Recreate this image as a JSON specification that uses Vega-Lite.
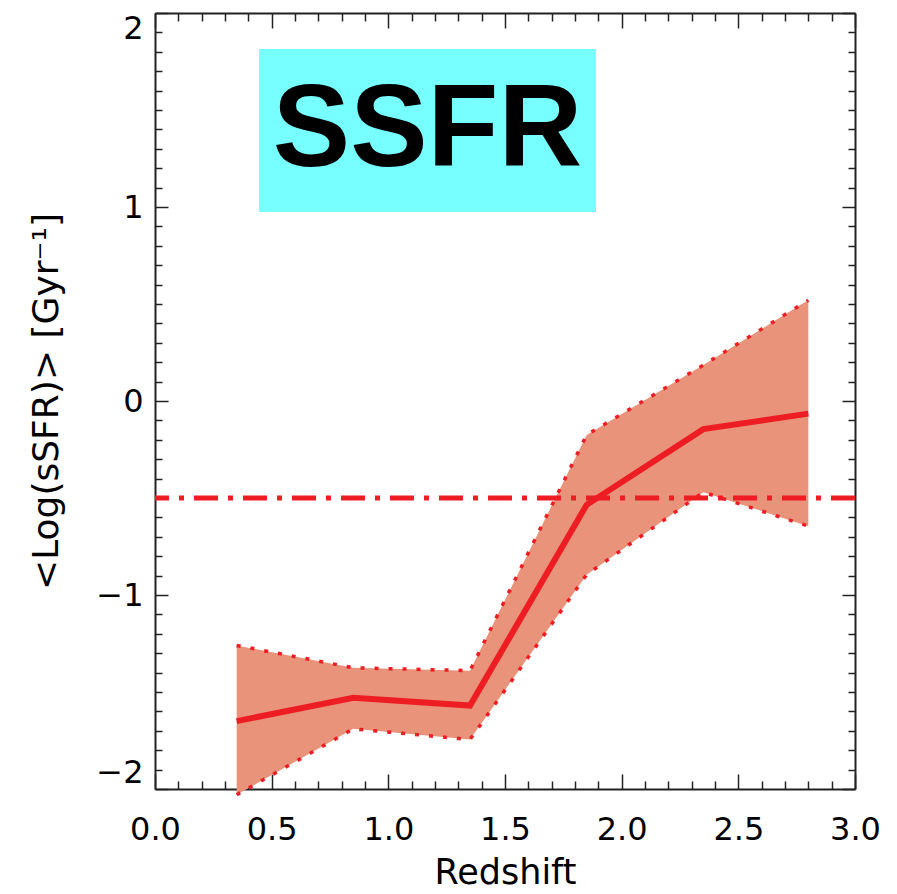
{
  "$schema": "https://vega.github.io/schema/vega-lite/v6.json",
  "autosize": "none",
  "width": 700,
  "height": 776,
  "padding": {"left": 155, "top": 13, "right": 42, "bottom": 105},
  "background": "white",
  "config": {
    "view": {"stroke": null},
    "axis": {
      "grid": false,
      "domainColor": "#222222",
      "domainWidth": 2,
      "tickColor": "#222222",
      "tickWidth": 1.5,
      "labelFont": "DejaVu Sans",
      "labelFontSize": 32,
      "labelColor": "#000000",
      "labelOverlap": false,
      "labelFlush": false,
      "titleFont": "DejaVu Sans",
      "titleFontSize": 35,
      "titleFontWeight": "normal",
      "titleColor": "#000000"
    }
  },
  "datasets": {
    "series": [
      {"z": 0.35, "mean": -1.65, "hi": -1.26, "lo": -2.03},
      {"z": 0.85, "mean": -1.53, "hi": -1.375, "lo": -1.69},
      {"z": 1.35, "mean": -1.57, "hi": -1.39, "lo": -1.745},
      {"z": 1.85, "mean": -0.535, "hi": -0.175, "lo": -0.895},
      {"z": 2.35, "mean": -0.145, "hi": 0.185, "lo": -0.47},
      {"z": 2.8, "mean": -0.065, "hi": 0.52, "lo": -0.645}
    ],
    "box": [
      {"x1": 0.446, "x2": 1.89, "y1": 1.814, "y2": 0.974, "cx": 1.168, "cy": 1.394, "label": "SSFR"}
    ],
    "ref": [{"y": -0.5}]
  },
  "layer": [
    {
      "data": {"name": "series"},
      "mark": {"type": "area", "color": "#E8937A", "opacity": 1},
      "encoding": {
        "x": {
          "field": "z", "type": "quantitative",
          "scale": {"domain": [0, 3], "nice": false, "zero": false},
          "axis": {
            "orient": "bottom",
            "title": "Redshift",
            "titlePadding": 3,
            "values": [0,0.1,0.2,0.3,0.4,0.5,0.6,0.7,0.8,0.9,1,1.1,1.2,1.3,1.4,1.5,1.6,1.7,1.8,1.9,2,2.1,2.2,2.3,2.4,2.5,2.6,2.7,2.8,2.9,3],
            "labelExpr": "abs(datum.value*2 - round(datum.value*2)) < 0.001 ? format(datum.value, '.1f') : ''",
            "tickSize": {"condition": {"test": "abs(datum.value*2 - round(datum.value*2)) < 0.001", "value": -15}, "value": -8},
            "labelPadding": 40,
            "labelOverlap": false
          }
        },
        "y": {
          "field": "hi", "type": "quantitative",
          "scale": {"domain": [-2, 2], "nice": false, "zero": false},
          "axis": {
            "orient": "left",
            "title": "<Log(sSFR)>  [Gyr⁻¹]",
            "titlePadding": 30,
            "titleFontSize": 36,
            "values": [-2,-1.9,-1.8,-1.7,-1.6,-1.5,-1.4,-1.3,-1.2,-1.1,-1,-0.9,-0.8,-0.7,-0.6,-0.5,-0.4,-0.3,-0.2,-0.1,0,0.1,0.2,0.3,0.4,0.5,0.6,0.7,0.8,0.9,1,1.1,1.2,1.3,1.4,1.5,1.6,1.7,1.8,1.9,2],
            "labelExpr": "abs(datum.value - round(datum.value)) < 0.001 ? format(datum.value, 'd') : ''",
            "tickSize": {"condition": {"test": "abs(datum.value - round(datum.value)) < 0.001", "value": -13}, "value": -7},
            "labelPadding": 25,
            "labelFlush": true,
            "labelOverlap": false
          }
        },
        "y2": {"field": "lo"}
      }
    },
    {
      "data": {"name": "series"},
      "mark": {"type": "line", "color": "#EE1D24", "strokeWidth": 3.5, "strokeDash": [4, 10]},
      "encoding": {
        "x": {"field": "z", "type": "quantitative", "axis": null},
        "y": {"field": "hi", "type": "quantitative", "axis": null}
      }
    },
    {
      "data": {"name": "series"},
      "mark": {"type": "line", "color": "#EE1D24", "strokeWidth": 3.5, "strokeDash": [4, 10]},
      "encoding": {
        "x": {"field": "z", "type": "quantitative", "axis": null},
        "y": {"field": "lo", "type": "quantitative", "axis": null}
      }
    },
    {
      "data": {"name": "series"},
      "mark": {"type": "line", "color": "#EE1D24", "strokeWidth": 6},
      "encoding": {
        "x": {"field": "z", "type": "quantitative", "axis": null},
        "y": {"field": "mean", "type": "quantitative", "axis": null}
      }
    },
    {
      "data": {"name": "ref"},
      "mark": {"type": "rule", "color": "#EE1D24", "strokeWidth": 5, "strokeDash": [24, 10, 5, 10]},
      "encoding": {
        "y": {"field": "y", "type": "quantitative", "axis": null}
      }
    },
    {
      "data": {"name": "box"},
      "mark": {"type": "rect", "color": "#77FFFF", "opacity": 1},
      "encoding": {
        "x": {"field": "x1", "type": "quantitative", "axis": null},
        "x2": {"field": "x2"},
        "y": {"field": "y1", "type": "quantitative", "axis": null},
        "y2": {"field": "y2"}
      }
    },
    {
      "data": {"name": "box"},
      "mark": {"type": "text", "font": "Liberation Sans", "fontWeight": "bold", "fontSize": 116, "color": "#000000", "align": "center", "baseline": "middle"},
      "encoding": {
        "x": {"field": "cx", "type": "quantitative", "axis": null},
        "y": {"field": "cy", "type": "quantitative", "axis": null},
        "text": {"field": "label"}
      }
    },
    {
      "data": {"name": "series"},
      "mark": {"type": "point", "opacity": 0},
      "encoding": {
        "x": {
          "field": "z", "type": "quantitative",
          "axis": {
            "orient": "top", "title": null, "labels": false,
            "values": [0,0.1,0.2,0.3,0.4,0.5,0.6,0.7,0.8,0.9,1,1.1,1.2,1.3,1.4,1.5,1.6,1.7,1.8,1.9,2,2.1,2.2,2.3,2.4,2.5,2.6,2.7,2.8,2.9,3],
            "tickSize": {"condition": {"test": "abs(datum.value*2 - round(datum.value*2)) < 0.001", "value": -15}, "value": -8}
          }
        },
        "y": {
          "field": "mean", "type": "quantitative",
          "axis": {
            "orient": "right", "title": null, "labels": false,
            "values": [-2,-1.9,-1.8,-1.7,-1.6,-1.5,-1.4,-1.3,-1.2,-1.1,-1,-0.9,-0.8,-0.7,-0.6,-0.5,-0.4,-0.3,-0.2,-0.1,0,0.1,0.2,0.3,0.4,0.5,0.6,0.7,0.8,0.9,1,1.1,1.2,1.3,1.4,1.5,1.6,1.7,1.8,1.9,2],
            "tickSize": {"condition": {"test": "abs(datum.value - round(datum.value)) < 0.001", "value": -13}, "value": -7}
          }
        }
      }
    }
  ],
  "resolve": {"axis": {"x": "independent", "y": "independent"}}
}
